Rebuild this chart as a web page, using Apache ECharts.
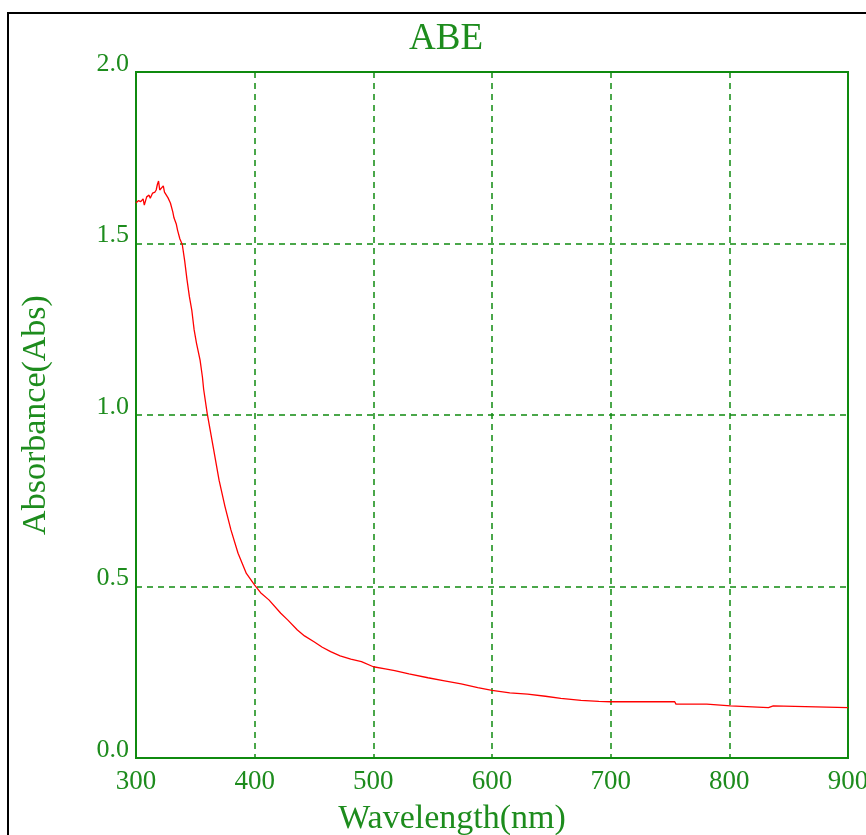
<!DOCTYPE html>
<html>
<head>
<meta charset="utf-8">
<script src="https://cdn.jsdelivr.net/npm/echarts@6/dist/echarts.min.js"></script>
<style>
html,body{margin:0;padding:0;background:#fff;}
#chart{width:866px;height:835px;}
</style>
</head>
<body>
<div id="chart"></div>
<script>
const chartTitle = 'ABE';
const xAxisName = 'Wavelength(nm)';
const yAxisName = 'Absorbance(Abs)';
const xTicks = [300, 400, 500, 600, 700, 800, 900];
const yTicks = [0.0, 0.5, 1.0, 1.5, 2.0];

const wavelength = [
  300, 302, 304, 306, 307, 309, 311, 312, 314, 316, 317, 318, 319, 320, 321, 323, 324, 325, 327, 329,
  331, 332, 334, 335, 337, 339, 341, 343, 345, 347, 349, 351, 354, 356, 357, 360, 365, 370, 375, 380,
  386, 393, 400, 405, 412, 422, 428, 436, 442, 450, 457, 464, 472, 481, 490, 500, 510, 518, 530, 546,
  560, 574, 588, 600, 615, 630, 645, 658, 675, 690, 700, 754, 755, 781, 782, 801, 802, 833, 834, 837,
  838, 900
];
const absorbance = [
  1.618, 1.625, 1.622, 1.630, 1.612, 1.636, 1.641, 1.632, 1.647, 1.650, 1.656, 1.672, 1.682, 1.656, 1.660, 1.668, 1.650, 1.647, 1.633, 1.618,
  1.592, 1.575, 1.556, 1.539, 1.513, 1.497, 1.450, 1.394, 1.345, 1.306, 1.248, 1.209, 1.160, 1.110, 1.075, 1.005, 0.908, 0.810, 0.733, 0.665,
  0.597, 0.538, 0.504, 0.482, 0.461, 0.422, 0.402, 0.373, 0.356, 0.339, 0.323, 0.310, 0.298, 0.288, 0.281, 0.266, 0.260, 0.255, 0.245, 0.234,
  0.225, 0.216, 0.205, 0.197, 0.190, 0.186, 0.180, 0.174, 0.168, 0.165, 0.164, 0.164, 0.157, 0.157, 0.152, 0.152, 0.147, 0.147, 0.152, 0.152,
  0.147, 0.147
];

const green = '#1d8c1d';
const lineGreen = '#0f8a0f';
const serif = '"Liberation Serif", "Times New Roman", serif';

const chart = echarts.init(document.getElementById('chart'), null, {renderer: 'canvas'});
chart.setOption({
  animation: false,
  backgroundColor: '#ffffff',
  title: {
    text: chartTitle,
    left: 441,
    top: 16,
    textAlign: 'center',
    textStyle: {fontFamily: serif, fontSize: 37, fontWeight: 'normal', color: green}
  },
  graphic: [{
    type: 'rect',
    shape: {x: 8, y: 13, width: 1000, height: 1000},
    style: {fill: 'none', stroke: '#000', lineWidth: 2},
    silent: true,
    z: 100
  }],
  grid: {
    left: 136, right: 18, top: 72, bottom: 77,
    outerBoundsMode: 'none',
    containLabel: false,
    show: true, borderColor: lineGreen, borderWidth: 2, backgroundColor: 'transparent'
  },
  xAxis: {
    type: 'value',
    min: xTicks[0], max: xTicks[xTicks.length - 1], interval: 100,
    name: xAxisName,
    nameLocation: 'middle',
    nameGap: 44,
    nameTextStyle: {fontFamily: serif, fontSize: 34, color: green, padding: [0, 80, 0, 0]},
    axisLine: {show: true, lineStyle: {color: lineGreen, width: 2}},
    axisTick: {show: false},
    axisLabel: {fontFamily: serif, fontSize: 27, color: green, margin: 10, showMinLabel: true, showMaxLabel: true},
    splitLine: {show: true, lineStyle: {color: lineGreen, type: [6, 5], width: 1.5}}
  },
  yAxis: {
    type: 'value',
    min: yTicks[0], max: yTicks[yTicks.length - 1], interval: 0.5,
    name: yAxisName,
    nameLocation: 'middle',
    nameGap: 83,
    nameTextStyle: {fontFamily: serif, fontSize: 34, color: green},
    axisLine: {show: true, lineStyle: {color: lineGreen, width: 2}},
    axisTick: {show: false},
    axisLabel: {
      fontFamily: serif, fontSize: 26, color: green, margin: 7,
      verticalAlign: 'bottom', lineHeight: 16,
      formatter: v => v.toFixed(1)
    },
    splitLine: {show: true, lineStyle: {color: lineGreen, type: [6, 5], width: 1.5}}
  },
  series: [{
    type: 'line',
    data: wavelength.map((w, i) => [w, absorbance[i]]),
    showSymbol: false,
    lineStyle: {color: '#ff0000', width: 1.3},
    clip: true
  }]
});
</script>
</body>
</html>
